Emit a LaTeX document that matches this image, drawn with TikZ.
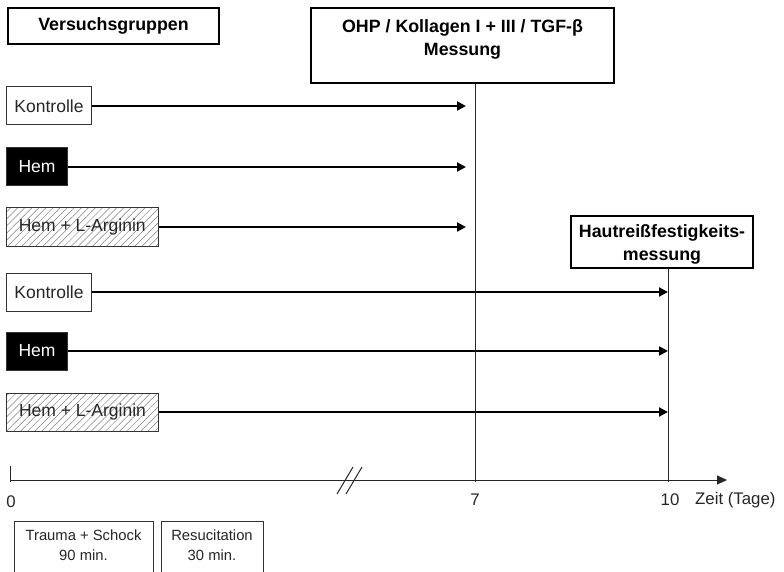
\documentclass[tikz,border=0pt]{standalone}
\usepackage{fontspec}
\setmainfont{Liberation Sans}
\usetikzlibrary{arrows.meta,patterns.meta}
\begin{document}
\begin{tikzpicture}[x=1pt,y=-1pt,
  every node/.style={font=\fontsize{16.8}{19}\selectfont, text=black!85, inner sep=0pt},
  titlebox/.style={draw=black, line width=2pt, font=\bfseries\fontsize{17.8}{23}\selectfont, text=black, align=center},
  titletext/.style={font=\bfseries\fontsize{17.8}{23}\selectfont, text=black, align=center},
  grp/.style={draw=black!80, line width=1pt, minimum height=38pt, anchor=west, align=center, font=\fontsize{17.5}{19}\selectfont},
  hembox/.style={grp, fill=black, text=white},
  hatchbox/.style={grp, pattern={Lines[angle=45,distance=5pt,line width=0.5pt]}, pattern color=black!50},
  grparrow/.style={line width=2pt, -{Triangle[length=9pt,width=9pt]}},
  thinline/.style={line width=1pt, black!85},
  phase/.style={draw=black!80, line width=1pt, font=\fontsize{14.8}{20}\selectfont, align=center, anchor=north}
]
\useasboundingbox (0,0) rectangle (784,572);
\clip (0,0) rectangle (784,572);
\fill[white] (0,0) rectangle (784,572);

% title boxes
\node[titlebox, minimum width=211pt, minimum height=36pt, anchor=north west] (vg) at (7,7) {Versuchsgruppen};
\node[titlebox, minimum width=303pt, minimum height=75pt, anchor=north west, text depth=16pt] (ohp) at (310,7) {OHP / Kollagen I + III / TGF-β\\Messung};
\node[titlebox, minimum width=182pt, minimum height=52pt, anchor=north west] (hr) at (570,215) {};
\node[titletext] (hrt) at ([yshift=-2.5pt]hr.center) {Hautreißfestigkeits-\\messung};

% group boxes
\node[grp, minimum width=85pt] (k1) at (6,106) {Kontrolle};
\node[hembox, minimum width=61pt] (h1) at (6,167) {Hem};
\node[hatchbox, minimum width=152pt] (a1) at (6,227) {Hem + L-Arginin};
\node[grp, minimum width=85pt] (k2) at (6,292) {Kontrolle};
\node[hembox, minimum width=61pt] (h2) at (6,351) {Hem};
\node[hatchbox, minimum width=152pt] (a2) at (6,412) {Hem + L-Arginin};

% axis coordinates
\coordinate (o) at (10,480);
\coordinate (otop) at (10,466);
\coordinate (obot) at (10,482);
\coordinate (t7) at (475,482);
\coordinate (t10) at (668,482);
\coordinate (ax) at (727,480);
\coordinate (br1a) at (337,494);
\coordinate (br1b) at (353,467);
\coordinate (br2a) at (346,494);
\coordinate (br2b) at (362,467);

% end points of arrows
\coordinate (e1) at (466,106);
\coordinate (e2) at (466,167);
\coordinate (e3) at (466,227);
\coordinate (e4) at (668,292);
\coordinate (e5) at (668,351);
\coordinate (e6) at (668,412);

\draw[grparrow] (k1.east) -- (e1);
\draw[grparrow] (h1.east) -- (e2);
\draw[grparrow] (a1.east) -- (e3);
\draw[grparrow] (k2.east) -- (e4);
\draw[grparrow] (h2.east) -- (e5);
\draw[grparrow] (a2.east) -- (e6);

% vertical time lines
\draw[thinline] (ohp.south -| t7) -- (t7);
\draw[thinline] (hr.south -| t10) -- (t10);

% time axis
\draw[thinline, -{Triangle[length=10pt,width=9pt]}] (o) -- (ax);
\draw[thinline] (otop) -- (obot);
\draw[thinline] (br1a) -- (br1b);
\draw[thinline] (br2a) -- (br2b);

\node (l0) at (11,502) {0};
\node (l7) at (475,500) {7};
\node (l10) at (670,500) {10};
\node[anchor=west] (lz) at (695,500) {Zeit (Tage)};

% phase boxes
\node[phase, minimum width=139pt, minimum height=70pt, text depth=22pt] (ts) at (83.5,521) {Trauma + Schock\\90 min.};
\node[phase, minimum width=102pt, minimum height=70pt, text depth=22pt] (rs) at (212,521) {Resucitation\\30 min.};
\end{tikzpicture}
\end{document}
